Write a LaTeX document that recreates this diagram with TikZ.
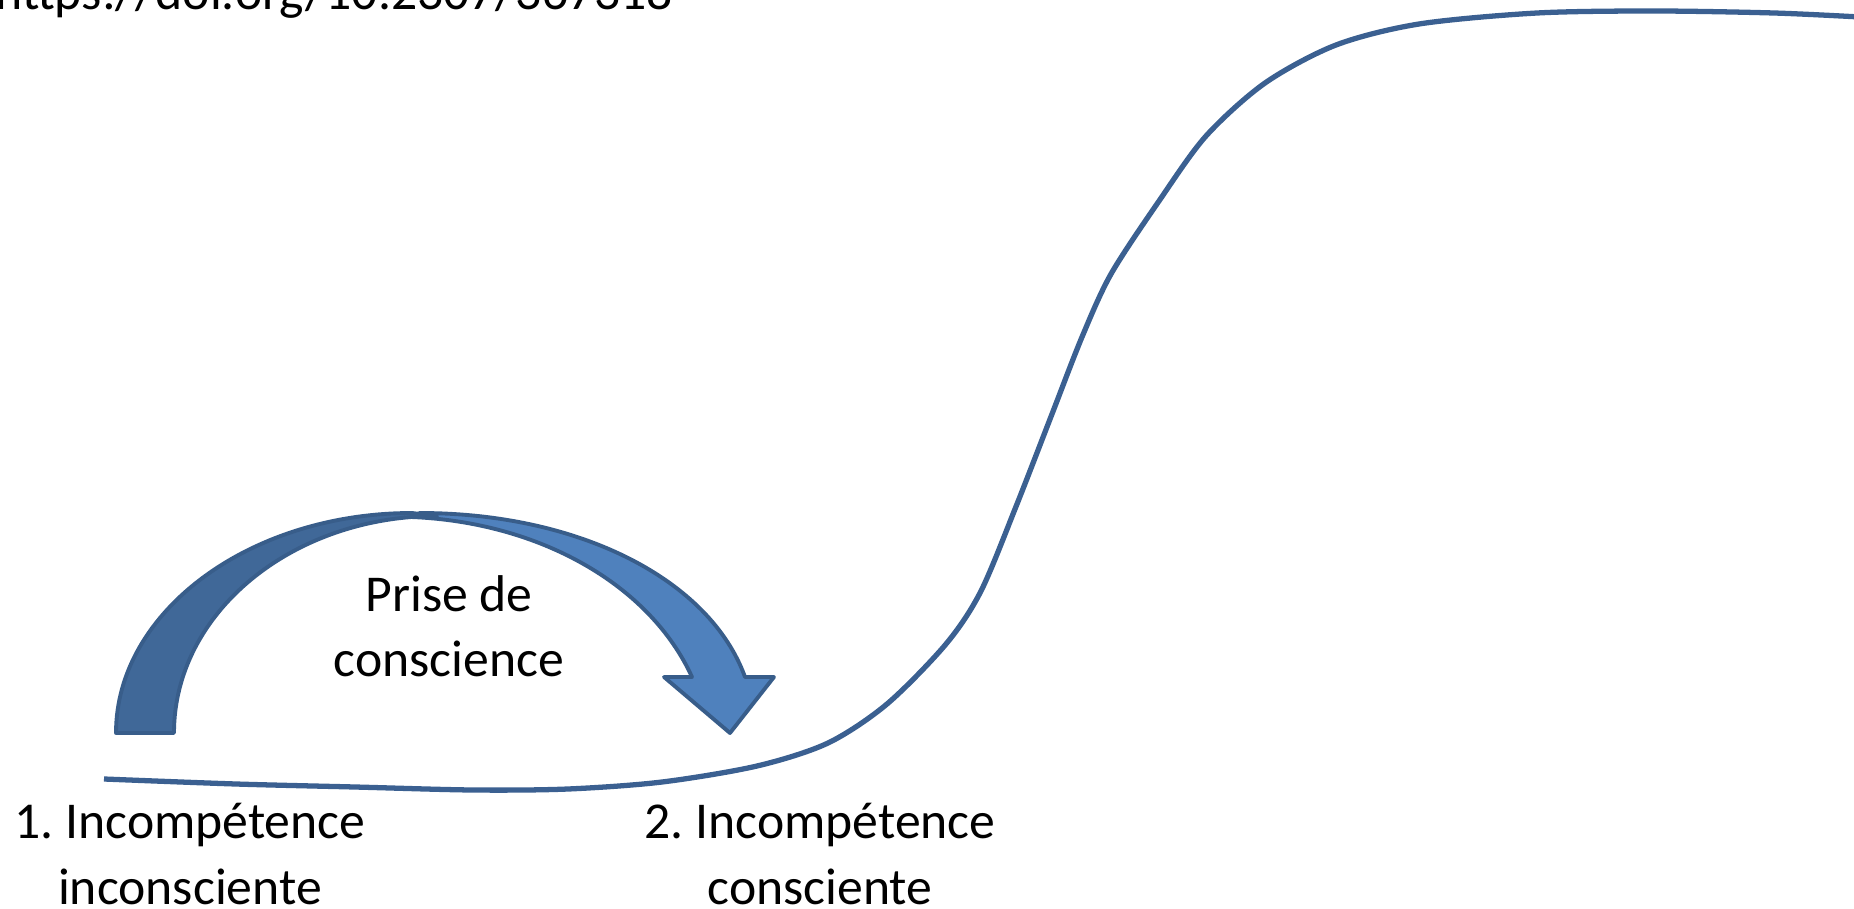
\documentclass[tikz,border=0pt]{standalone}
\usepackage{fontspec}
\setmainfont{Carlito}
\frenchspacing
\definecolor{bleucourbe}{RGB}{59,96,145}
\definecolor{bleufonce}{RGB}{64,104,152}
\definecolor{bleuclair}{RGB}{79,129,189}
\definecolor{bleubord}{RGB}{56,93,138}
\tikzset{
  etiquette/.style={align=center, font=\fontsize{14.7}{18.5}\selectfont, inner sep=0pt},
  fleche/.style={draw=bleubord, line width=1.1pt, line join=round},
  courbe/.style={draw=bleucourbe, line width=1.5pt}
}

\begin{document}
\begin{tikzpicture}[x=0.01cm, y=-0.01cm]
\useasboundingbox (0,0) rectangle (1854,909);

% courbe d'apprentissage
\draw[courbe] plot[smooth, tension=0.5] coordinates {
  (104,779) (236,784) (355,787) (473,790) (568,789) (662,782) (757,766)
  (828,743) (887,704) (946,644) (981,591) (1017,504) (1052,414) (1082,337)
  (1111,274) (1159,201) (1206,136) (1265,83) (1336,45) (1419,24) (1537,13)
  (1655,11) (1774,13) (1860,17)};

% fleche courbe
\fill[bleuclair, fleche] (411,517) -- (420,513)
  .. controls (580,513) and (710,580) .. (745,677) -- (774,677)
  -- (730,733) -- (664,677) -- (692,677)
  .. controls (650,585) and (540,522) .. cycle;
\fill[bleufonce, fleche] (116,733)
  .. controls (116,612) and (249,513) .. (412,513) -- (437,516)
  .. controls (292,516) and (174,613) .. (174,733) -- cycle;

\node[etiquette] (prise) at (449,626) {Prise de\\conscience};
\node[etiquette] (stade1) at (190,854) {1. Incompétence\\inconsciente};
\node[etiquette] (stade2) at (820,854) {2. Incompétence\\consciente};
\node[etiquette, anchor=base east] (doi) at (674,10) {https://doi.org/10.2307/367318};
\end{tikzpicture}
\end{document}
